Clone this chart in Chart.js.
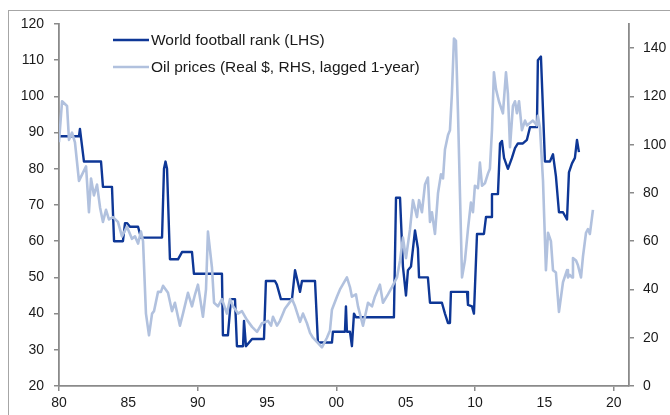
<!DOCTYPE html>
<html><head><meta charset="utf-8">
<script src="https://cdn.jsdelivr.net/npm/chart.js@4.4.0/dist/chart.umd.min.js"></script>
<style>html,body{margin:0;padding:0;background:#fff;}#wrap{position:relative;width:670px;height:415px;}</style>
</head><body><div id="wrap"><canvas id="c" width="670" height="415"></canvas></div>
<script>
// World football rank (left axis)
const rankYears = [1980.00,1981.44,1981.51,1981.80,1983.03,1983.17,1983.82,1983.97,1984.61,1984.76,1984.90,1985.12,1985.70,1985.91,1987.43,1987.57,1987.68,1987.79,1988.00,1988.58,1988.87,1989.59,1989.73,
 1991.75,1991.82,1992.18,1992.40,1992.69,1992.83,1993.27,1993.34,1993.48,1993.92,1994.78,1994.92,1995.57,1995.71,1996.00,1996.80,1997.02,1997.38,1997.52,1998.46,1998.67,1999.68,1999.75,
 2000.62,2000.69,2000.76,2000.98,2001.12,2001.27,2001.41,2004.15,2004.30,2004.59,2004.80,2005.02,2005.16,2005.38,2005.67,2005.88,2005.96,2006.60,2006.75,2007.61,2007.83,2008.05,2008.19,2008.26,
 2009.42,2009.49,2009.78,2009.92,2010.14,2010.64,2010.79,2011.15,2011.22,2011.65,2011.80,2011.94,2012.09,2012.37,2012.66,2012.88,2013.09,2013.45,2013.74,2013.96,2014.46,2014.53,2014.75,
 2015.04,2015.40,2015.62,2015.83,2016.05,2016.34,2016.63,2016.77,2016.99,2017.20,2017.35,2017.49];
const rankValues = [89,89,91,82,82,75,75,60,60,65,65,64,64,61,61,80,82,80,55,55,57,57,51,
 51,34,34,44,44,31,31,38,31,33,33,49,49,48,44,44,52,46,49,49,32,32,35,
 35,42,35,35,31,40,39,39,72,72,53,45,52,53,63,58,50,50,43,43,40,37.4,37.4,46,
 46,42.4,42,40,62,62,66.7,66.7,73,73,87,87.7,83,80,83,85.7,87,87,88,91.5,91.5,110,111,
 82,82,84,78,68,68,66,79,81.5,83,88,84.6];

// Oil prices, real $, lagged 1 year (right axis)
const oilYears = [1980.00,1980.22,1980.58,1980.72,1980.94,1981.15,1981.44,1981.95,1982.16,1982.31,1982.52,1982.74,1982.96,1983.17,1983.39,1983.60,1983.89,1984.25,1984.54,1984.90,1985.26,1985.48,1985.70,1985.91,
 1986.06,1986.27,1986.49,1986.71,1986.85,1987.14,1987.35,1987.50,1987.86,1988.15,1988.36,1988.72,1988.94,1989.30,1989.59,1989.81,1990.02,1990.38,1990.60,1990.74,1991.03,1991.18,1991.46,1991.75,
 1992.11,1992.33,1992.55,1992.91,1993.19,1993.55,1993.92,1994.28,1994.64,1995.07,1995.29,1995.43,1995.72,1995.93,1996.15,1996.29,1996.80,1997.02,1997.38,1997.59,1997.88,1998.10,1998.31,1998.96,
 1999.32,1999.54,1999.68,2000.04,2000.26,2000.76,2000.98,2001.12,2001.41,2001.56,2001.92,2002.28,2002.57,2002.78,2003.14,2003.36,2003.72,2004.01,2004.37,2004.59,2004.80,2005.02,2005.31,2005.52,
 2005.81,2005.96,2006.17,2006.39,2006.60,2006.75,2006.89,2007.11,2007.33,2007.54,2007.69,2007.83,2008.05,2008.19,2008.33,2008.48,2008.62,2008.77,2009.06,2009.27,2009.49,2009.70,2009.85,2009.99,
 2010.21,2010.35,2010.50,2010.71,2010.93,2011.07,2011.22,2011.36,2011.51,2011.72,2012.01,2012.23,2012.37,2012.52,2012.73,2012.88,2013.02,2013.17,2013.38,2013.60,2013.74,2013.96,2014.17,2014.46,
 2014.53,2014.68,2014.90,2015.11,2015.26,2015.47,2015.62,2015.83,2016.05,2016.34,2016.63,2016.70,2016.84,2016.99,2017.06,2017.28,2017.42,2017.64,2017.78,2018.00,2018.14,2018.28,2018.50];
const oilValues = [101,118,116,102,105,101,85,91,72,86,79,83.5,74,68,73,69,70,68,62,66,61,62,59,64,
 60,30,21,30,31,39,39,41.5,38.6,31,34.5,25,30,38.6,33,38,42,28.7,40,64,49,34.5,33,36,
 30,36,33,30,31,27.4,24.5,22.4,26,27,25,28.7,25,27,30,32,36,33,26.6,30,26,22,20,16,
 20,23,31.6,37,40,45,41,37,38,33,25,34.5,33,37,42,34.5,38,41,45,52,61.5,53,65,77,
 70,77,72,83.5,86.4,68,72,63,80,87.7,86,98,104,106,121,144,143,113,45,52,65,76,72,83,
 82,92.6,83,84,88,90,106,130,123,118,113,130,121,99,116,118,113,118,106,110,108,109,110,108,
 112,107,85,48,63.5,60,48,47,30.7,43,48,45,46,45,53,52,50,45,53.6,63.5,65,63,73];

const xTickYears = [1980,1985,1990,1995,2000,2005,2010,2015,2020];
const xTickLabels = ['80','85','90','95','00','05','10','15','20'];
const seriesNames = ['World football rank (LHS)', 'Oil prices (Real $, RHS, lagged 1-year)'];

const darkBlue = '#0e3796';
const lightBlue = '#b1c1de';
const axisGray = '#8a8a8a';
const FONT = 'Liberation Sans, Arial, sans-serif';

const rankData = rankYears.map((x, i) => ({x, y: rankValues[i]}));
const oilData = oilYears.map((x, i) => ({x, y: oilValues[i]}));

const framePlugin = {
  id: 'frame',
  beforeDraw(chart) {
    const ctx = chart.ctx;
    ctx.save();
    ctx.fillStyle = '#fff';
    ctx.fillRect(0, 0, chart.width, chart.height);
    ctx.strokeStyle = '#a6a6a6';
    ctx.lineWidth = 1;
    ctx.strokeRect(8.5, 10.5, chart.width + 20, chart.height + 20);
    ctx.restore();
  }
};

const legendPlugin = {
  id: 'insideLegend',
  afterDraw(chart) {
    const ctx = chart.ctx;
    const items = [{c: darkBlue, t: seriesNames[0], y: 40}, {c: lightBlue, t: seriesNames[1], y: 67}];
    ctx.save();
    ctx.font = '15.5px ' + FONT;
    ctx.textBaseline = 'middle';
    items.forEach(it => {
      ctx.strokeStyle = it.c;
      ctx.lineWidth = 2.5;
      ctx.beginPath();
      ctx.moveTo(113, it.y);
      ctx.lineTo(149, it.y);
      ctx.stroke();
      ctx.fillStyle = '#1a1a1a';
      ctx.fillText(it.t, 151, it.y + 1);
    });
    ctx.restore();
  }
};

new Chart(document.getElementById('c'), {
  type: 'line',
  data: {
    datasets: [
      {label: seriesNames[1], data: oilData, yAxisID: 'yR', borderColor: lightBlue, borderWidth: 2.6, pointRadius: 0, tension: 0, order: 0, borderJoinStyle: 'round'},
      {label: seriesNames[0], data: rankData, yAxisID: 'yL', borderColor: darkBlue, borderWidth: 2.4, pointRadius: 0, tension: 0, order: 1, borderJoinStyle: 'round'}
    ]
  },
  options: {
    responsive: false,
    animation: false,
    devicePixelRatio: 1,
    layout: {padding: {top: 24, left: 0, right: 0, bottom: 0}},
    plugins: {legend: {display: false}, tooltip: {enabled: false}},
    scales: {
      x: {
        type: 'linear', min: 1980, max: 2021.1,
        afterBuildTicks: s => { s.ticks = xTickYears.map(v => ({value: v})); },
        afterFit: s => { s.height = 29; },
        ticks: {
          autoSkip: false, maxRotation: 0, padding: 4, color: '#1a1a1a', font: {family: FONT, size: 14},
          callback: (v) => { const i = xTickYears.indexOf(v); return i >= 0 ? xTickLabels[i] : ''; }
        },
        grid: {drawOnChartArea: false, tickLength: 5, color: ctx => (ctx.tick && ctx.tick.value % 10 === 0) ? axisGray : 'rgba(0,0,0,0)', lineWidth: 1.5},
        border: {color: axisGray, width: 1.8}
      },
      yL: {
        position: 'left', min: 20, max: 120,
        afterFit: s => { s.width = 59; },
        ticks: {stepSize: 10, padding: 10, color: '#1a1a1a', font: {family: FONT, size: 14}},
        grid: {drawOnChartArea: false, tickLength: 5, color: axisGray, lineWidth: 1.5},
        border: {color: axisGray, width: 1.8}
      },
      yR: {
        position: 'right', min: 0, max: 150,
        afterBuildTicks: s => { s.ticks = s.ticks.filter(t => t.value <= 140); },
        afterFit: s => { s.width = 41; },
        ticks: {stepSize: 20, padding: 9, color: '#1a1a1a', font: {family: FONT, size: 14}},
        grid: {drawOnChartArea: false, tickLength: 5, color: axisGray, lineWidth: 1.5},
        border: {color: axisGray, width: 1.8}
      }
    }
  },
  plugins: [framePlugin, legendPlugin]
});
</script>
</body></html>
